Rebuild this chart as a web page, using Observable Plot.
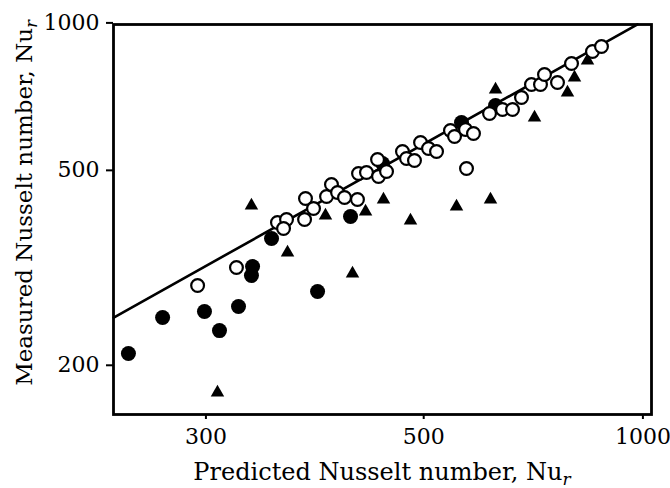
<!DOCTYPE html>
<html><head><meta charset="utf-8">
<script src="https://cdn.jsdelivr.net/npm/d3@7"></script>
<script src="https://cdn.jsdelivr.net/npm/@observablehq/plot@0.6"></script>
<style>body{margin:0;background:#fff;} svg{display:block}</style>
</head><body><div id="chart"></div>
<script>
// Predicted (x) vs measured (y) Nusselt numbers
const filledX = [257.1, 274.8, 299.1, 308.6, 321.3, 331.2, 330.4, 345.3, 383.5, 414.9, 449.2, 554.6, 611.8];
const filledY = [211.4, 250.3, 257.5, 235.4, 263.6, 318.2, 305.0, 362.9, 282.9, 402.5, 516.3, 626.1, 678.2];

const openX = [294.9, 319.9, 349.9, 357.1, 354.7, 372.9, 372.1, 379.9, 391.7, 396.3, 402.1, 408.9, 422.0, 423.1, 431.5, 443.6, 444.7, 453.8, 472.8, 477.8, 487.9, 495.8, 506.5, 517.6, 537.8, 543.9, 560.9, 573.8, 562.5, 601.1, 624.6, 643.7, 661.6, 682.4, 702.0, 711.0, 741.4, 776.4, 833.6, 860.1];
const openY = [291.0, 316.7, 391.3, 396.8, 380.4, 438.0, 396.8, 417.9, 442.2, 467.8, 450.5, 440.1, 436.0, 492.6, 495.0, 526.2, 485.7, 497.3, 546.3, 528.6, 523.7, 569.9, 554.1, 546.3, 603.0, 586.2, 605.8, 594.6, 504.3, 653.2, 665.6, 665.6, 704.2, 748.6, 748.6, 784.6, 755.6, 826.3, 874.2, 895.0];

const triX = [307.3, 330.4, 357.9, 390.7, 416.9, 430.5, 450.3, 482.8, 546.9, 602.8, 611.8, 688.9, 766.1, 784.2, 819.5];
const triY = [176.0, 423.8, 339.8, 404.4, 307.9, 412.0, 436.0, 395.0, 421.9, 436.0, 731.2, 641.0, 720.9, 773.6, 838.0];

// agreement line endpoints
const lineX = [250, 980];
const lineY = [250.3, 993];

const xTicks = [300, 500, 1000];
const yTicks = [200, 500, 1000];
const xTitle = "Predicted Nusselt number, Nu";
const yTitle = "Measured Nusselt number, Nu";
const subscript = "r";

const filled = filledX.map((x, i) => ({x, y: filledY[i]}));
const open = openX.map((x, i) => ({x, y: openY[i]}));
const tri = triX.map((x, i) => ({x, y: triY[i]}));
const line = lineX.map((x, i) => ({x, y: lineY[i]}));

const FONT = "DejaVu Serif";

const plot = Plot.plot({
  width: 670, height: 488,
  marginLeft: 113, marginRight: 19, marginTop: 24, marginBottom: 74,
  style: {fontFamily: FONT, background: "white", color: "black"},
  x: {type: "pow", exponent: -0.5, domain: [249.9, 1033.3]},
  y: {type: "log", domain: [158.7, 1000], insetTop: -1.6},
  marks: [
    Plot.axisX({ticks: xTicks, tickFormat: d => String(d), tickSize: 5, tickPadding: 9, strokeWidth: 2, fontSize: 22, label: null}),
    Plot.axisY({ticks: yTicks, tickFormat: d => String(d), tickSize: 7, tickPadding: 7, strokeWidth: 2, fontSize: 22, label: null}),
    Plot.line(line, {x: "x", y: "y", stroke: "black", strokeWidth: 2.6}),
    Plot.dot(filled, {x: "x", y: "y", r: 7.5, fill: "black", stroke: "none"}),
    Plot.dot(tri, {x: "x", y: "y", symbol: "triangle", r: 5, fill: "black", stroke: "none"}),
    Plot.dot(open, {x: "x", y: "y", r: 6.4, fill: "white", stroke: "black", strokeWidth: 2.2}),
    Plot.frame({stroke: "black", strokeWidth: 2.8})
  ]
});

const svg = d3.select(plot);
const xt = svg.append("text")
  .attr("x", 382).attr("y", 480)
  .attr("text-anchor", "middle")
  .attr("font-family", FONT).attr("font-size", 24).attr("fill", "black")
  .text(xTitle);
xt.append("tspan").attr("dy", 5).attr("font-size", 17).attr("font-style", "italic").text(subscript);

const yt = svg.append("text")
  .attr("transform", "translate(32,203) rotate(-90)")
  .attr("text-anchor", "middle")
  .attr("font-family", FONT).attr("font-size", 23).attr("fill", "black")
  .text(yTitle);
yt.append("tspan").attr("dy", 5).attr("font-size", 16).attr("font-style", "italic").text(subscript);

document.getElementById("chart").appendChild(plot);
</script>
</body></html>
